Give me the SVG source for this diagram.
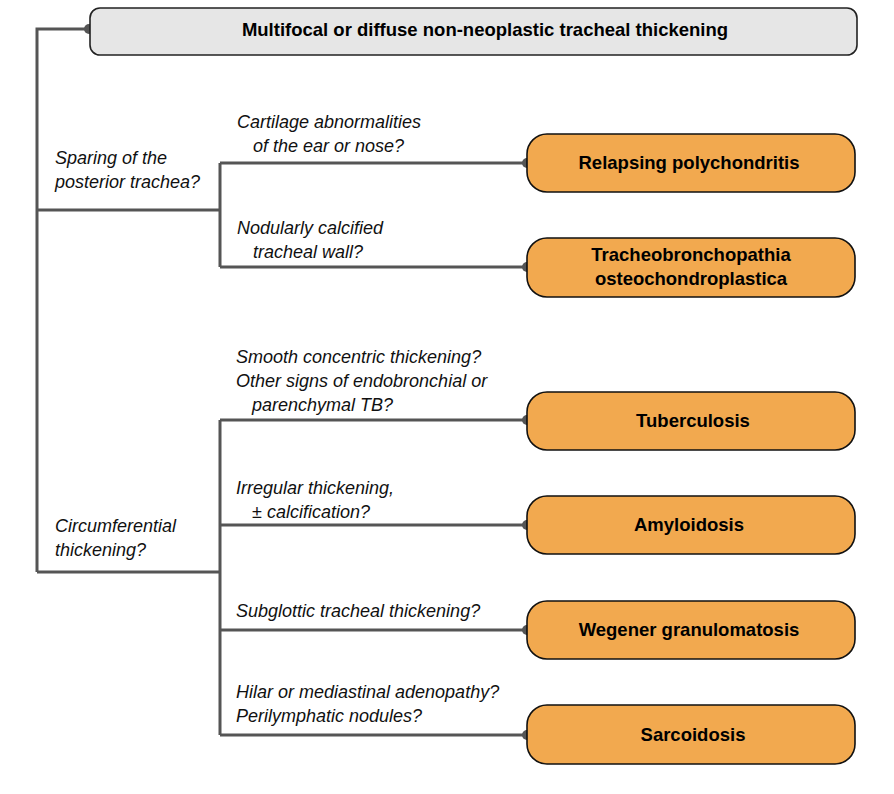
<svg xmlns="http://www.w3.org/2000/svg" width="894" height="794" viewBox="0 0 894 794">
<style>
.q{font-family:"Liberation Sans",Arial,sans-serif;font-style:italic;font-size:18px;fill:#111}
.n{font-family:"Liberation Sans",Arial,sans-serif;font-weight:bold;font-size:18.5px;fill:#000;text-anchor:middle}
.box{fill:#f2a94f;stroke:#111;stroke-width:1.6}
.top{fill:#e6e6e6;stroke:#222;stroke-width:1.6}
.ln{fill:none;stroke:#555;stroke-width:3}
.dot{fill:#555}
</style>
<rect width="894" height="794" fill="#fff"/>
<g id="connectors">
<path class="ln" d="M89,29 H37 V572 M37,210 H220 M37,572 H220"/>
<path class="ln" d="M220,163 V267 M220,163 H527 M220,267 H527"/>
<path class="ln" d="M220,420 V735 M220,420 H527 M220,525 H527 M220,630 H527 M220,735 H527"/>
<circle class="dot" cx="89" cy="29" r="5"/>
<circle class="dot" cx="527" cy="163" r="5"/>
<circle class="dot" cx="527" cy="267" r="5"/>
<circle class="dot" cx="527" cy="420" r="5"/>
<circle class="dot" cx="527" cy="525" r="5"/>
<circle class="dot" cx="527" cy="630" r="5"/>
<circle class="dot" cx="527" cy="735" r="5"/>
</g>
<g id="labels">
<text class="q" x="237" y="128">Cartilage abnormalities</text>
<text class="q" x="253" y="152">of the ear or nose?</text>
<text class="q" x="55" y="164">Sparing of the</text>
<text class="q" x="55" y="188">posterior trachea?</text>
<text class="q" x="237" y="234">Nodularly calcified</text>
<text class="q" x="253" y="258">tracheal wall?</text>
<text class="q" x="236" y="363">Smooth concentric thickening?</text>
<text class="q" x="236" y="387">Other signs of endobronchial or</text>
<text class="q" x="252" y="411">parenchymal TB?</text>
<text class="q" x="236" y="494">Irregular thickening,</text>
<text class="q" x="252" y="518">± calcification?</text>
<text class="q" x="55" y="532">Circumferential</text>
<text class="q" x="55" y="556">thickening?</text>
<text class="q" x="236" y="617">Subglottic tracheal thickening?</text>
<text class="q" x="236" y="698">Hilar or mediastinal adenopathy?</text>
<text class="q" x="236" y="722">Perilymphatic nodules?</text>
</g>
<g id="root">
<rect class="top" x="90" y="8" width="767" height="47" rx="10"/>
<text class="n" x="485" y="36">Multifocal or diffuse non-neoplastic tracheal thickening</text>
</g>
<g id="relapsing">
<rect class="box" x="527" y="134" width="328" height="58" rx="20"/>
<text class="n" x="689" y="169">Relapsing polychondritis</text>
</g>
<g id="tracheo">
<rect class="box" x="527" y="238" width="328" height="59" rx="20"/>
<text class="n" x="691" y="261">Tracheobronchopathia</text>
<text class="n" x="691" y="285">osteochondroplastica</text>
</g>
<g id="tb">
<rect class="box" x="527" y="392" width="328" height="58" rx="20"/>
<text class="n" x="693" y="427">Tuberculosis</text>
</g>
<g id="amyloid">
<rect class="box" x="527" y="496" width="328" height="58" rx="20"/>
<text class="n" x="689" y="531">Amyloidosis</text>
</g>
<g id="wegener">
<rect class="box" x="527" y="601" width="328" height="58" rx="20"/>
<text class="n" x="689" y="636">Wegener granulomatosis</text>
</g>
<g id="sarcoid">
<rect class="box" x="527" y="705" width="328" height="59" rx="20"/>
<text class="n" x="693" y="741">Sarcoidosis</text>
</g>
</svg>
